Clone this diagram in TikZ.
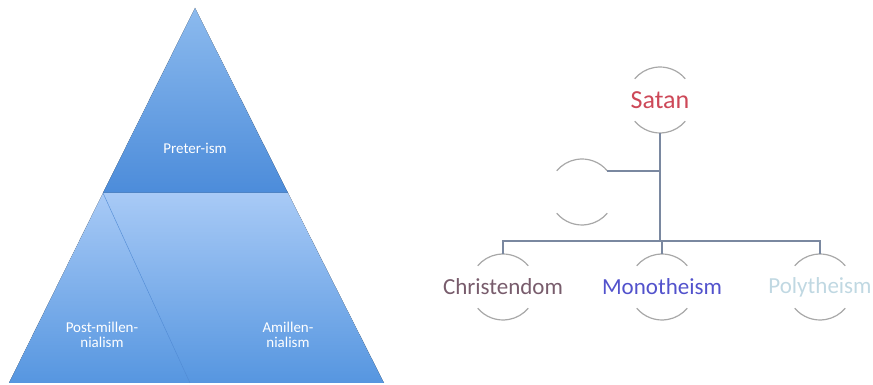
\documentclass[tikz,border=0pt]{standalone}
\usepackage{fontspec}
\setmainfont{Carlito}
\definecolor{pyrtop}{RGB}{140,186,238}
\definecolor{pyrmid}{RGB}{76,140,218}
\definecolor{pyrlow}{RGB}{168,202,246}
\definecolor{pyrbot}{RGB}{86,150,224}
\definecolor{pyredge}{RGB}{80,138,212}
\definecolor{satanred}{RGB}{205,72,88}
\definecolor{christbrown}{RGB}{120,92,108}
\definecolor{monoblue}{RGB}{82,82,204}
\definecolor{polypale}{RGB}{192,216,226}
\definecolor{arcgray}{RGB}{168,168,168}
\definecolor{linegray}{RGB}{122,136,160}
\tikzset{
  pyrtext/.style={text=white,font=\fontsize{15}{15}\selectfont,align=center},
  orgnode/.style={circle,minimum size=66pt,inner sep=0pt,outer sep=0pt},
  orgtext/.style={font=\fontsize{23}{26}\selectfont},
  arcline/.style={draw=arcgray,line width=1.2pt},
  bus/.style={draw=linegray,line width=1.5pt}
}
\begin{document}
\begin{tikzpicture}[x=1pt,y=1pt]
			\useasboundingbox (0,0) rectangle (873,385);
			\def\r{33}
			%pyramid
			\coordinate (apex) at (195,377);
			\coordinate (baseL) at (9,2);
			\coordinate (baseR) at (384,2);
			\coordinate (midL) at (103,192);
			\coordinate (midR) at (288,192);
			\coordinate (split) at (190,2);
			\fill[top color=pyrtop,bottom color=pyrmid] (apex) -- (midR) -- (midL) -- cycle;
			\fill[top color=pyrlow,bottom color=pyrbot] (midL) -- (midR) -- (baseR) -- (baseL) -- cycle;
			\draw[pyredge,thin] (midL) -- (split);
			\node[pyrtext] (preter) at (195,237) {Preter-ism};
			\node[pyrtext] (postmil) at (102,50) {Post-millen-\\nialism};
			\node[pyrtext] (amil) at (288,50) {Amillen-\\nialism};
			%org chart
			\node[orgnode,label={[orgtext,text=satanred,font=\fontsize{26}{28}\selectfont]center:Satan}] (satan) at (660,285) {};
			\node[orgnode] (helper) at (582,193) {};
			\node[orgnode,label={[orgtext,text=christbrown]center:Christendom}] (christ) at (503,98) {};
			\node[orgnode,label={[orgtext,text=monoblue]center:Monotheism}] (mono) at (662,98) {};
			\node[orgnode,label={[orgtext,text=polypale]center:Polytheism}] (poly) at (820,98) {};
			% arcs round the boxes
			\foreach \n in {satan,helper,christ,mono,poly}{
				\draw[arcline] (\n.40) arc (40:140:\r);
				\draw[arcline] (\n.220) arc (220:320:\r);
			}
			% lines
			\coordinate (hub) at (660,144);
			\draw[bus] (satan.south) -- (hub);
			\draw[bus] (helper.40) -- (helper.40 -| satan.south);
			\draw[bus] (christ.north) |- (hub) -| (poly.north);
			\draw[bus] (mono.north) -- (mono.north |- hub);
		\end{tikzpicture}
\end{document}
